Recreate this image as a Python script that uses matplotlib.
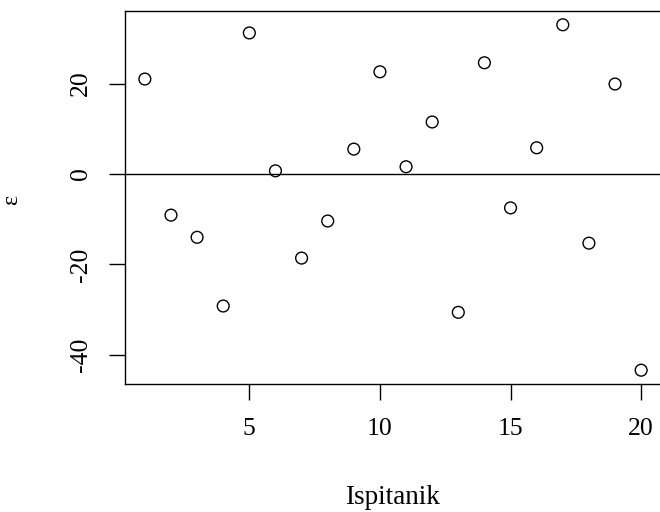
import matplotlib
matplotlib.use("Agg")
import matplotlib.pyplot as plt
import numpy as np

plt.rcParams['font.family'] = ['Liberation Serif', 'DejaVu Serif']

subjects = list(range(1, 21))
residuals = [21.0, -9.1, -14.0, -29.2, 31.2, 0.7, -18.6, -10.4, 5.5, 22.6,
             1.6, 11.5, -30.6, 24.6, -7.5, 5.8, 33.0, -15.3, 19.9, -43.4]
xticks = [5, 10, 15, 20]
yticks = [-40, -20, 0, 20]

fig = plt.figure(figsize=(6.6, 5.12), dpi=100)
ax = fig.add_axes([125/660, 128/512, 536/660, 373/512])
ax.scatter(subjects, residuals, s=72, facecolors='none', edgecolors='black', linewidths=1.0, zorder=3)
ax.axhline(0, color='black', linewidth=1.0)
ax.set_xlim(0.24, 20.76)
ax.set_ylim(-46.45, 36.05)
ax.set_xticks(xticks)
ax.set_yticks(yticks)
ax.set_xticklabels([str(v) for v in xticks])
ax.set_yticklabels([str(v) for v in yticks], rotation=90, va='center')
ax.tick_params(axis='both', labelsize=18.5, length=11.5, width=1, direction='out')
ax.tick_params(axis='x', pad=13)
ax.tick_params(axis='y', pad=12)
for s in ax.spines.values():
    s.set_linewidth(1.0)
fig.text(392/660, 1 - 498/512, 'Ispitanik', ha='center', va='center', fontsize=19.5)
fig.text(12/660, 1 - 200/512, 'ε', ha='center', va='center', fontsize=17.5, rotation=90)
fig.savefig('out.png', dpi=100)
